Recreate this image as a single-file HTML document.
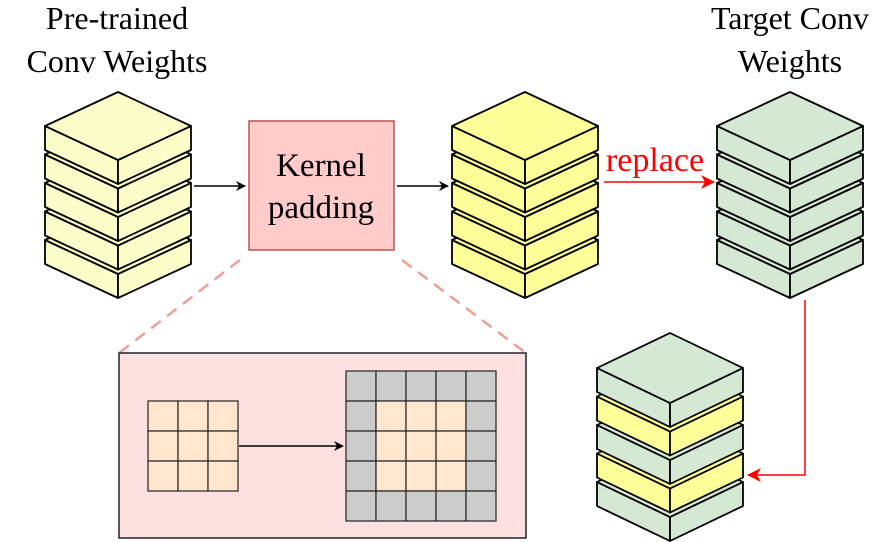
<!DOCTYPE html>
<html><head><meta charset="utf-8"><style>body{margin:0;background:#fff}svg{display:block}text{font-family:"Liberation Serif",serif;}</style></head>
<body>
<svg width="896" height="542" viewBox="0 0 896 542">
<defs>
<marker id="ab" markerWidth="10" markerHeight="10" refX="9" refY="5" orient="auto" markerUnits="userSpaceOnUse"><path d="M0,0 L10,5 L0,10 L3,5 z" fill="#000"/></marker>
<marker id="ar" markerWidth="14" markerHeight="14" refX="13" refY="7" orient="auto" markerUnits="userSpaceOnUse"><path d="M0,0 L14,7 L0,14 L4,7 z" fill="#f00"/></marker>
</defs>
<text x="117" y="29" font-size="32" text-anchor="middle">Pre-trained</text>
<text x="117" y="72" font-size="32" text-anchor="middle">Conv Weights</text>
<text x="790" y="29" font-size="32" text-anchor="middle">Target Conv</text>
<text x="790" y="72" font-size="32" text-anchor="middle">Weights</text>
<g id="stacks"></g>
<rect x="249" y="121" width="145" height="129" fill="#ffcccb" stroke="#b85450" stroke-width="1.5"/>
<text x="321" y="176" font-size="33" text-anchor="middle">Kernel</text>
<text x="321" y="218" font-size="33" text-anchor="middle">padding</text>
<line x1="194" y1="186" x2="245" y2="186" stroke="#000" stroke-width="1.5" marker-end="url(#ab)"/>
<line x1="397" y1="186" x2="448" y2="186" stroke="#000" stroke-width="1.5" marker-end="url(#ab)"/>
<line x1="604" y1="182" x2="714" y2="182" stroke="#f00" stroke-width="1.5" marker-end="url(#ar)"/>
<text x="655" y="171" font-size="34" fill="#f00" text-anchor="middle">replace</text>
<polyline points="805,300 805,475 748,475" fill="none" stroke="#f00" stroke-width="1.5" marker-end="url(#ar)"/>
<line x1="240" y1="260" x2="119" y2="353" stroke="#f19c99" stroke-width="2.5" stroke-dasharray="12,8"/>
<line x1="402" y1="260" x2="526" y2="353" stroke="#f19c99" stroke-width="2.5" stroke-dasharray="12,8"/>
<rect x="119" y="353" width="407" height="185" fill="#fde0e0" stroke="#222" stroke-width="1.5"/>
<g id="grids"></g>
<line x1="239" y1="446" x2="343" y2="446" stroke="#000" stroke-width="1.5" marker-end="url(#ab)"/>
</svg>
<script>
const NS="http://www.w3.org/2000/svg";
const stacks=[
 {cx:118,m:126,h:34,colors:["#fdfdc9","#fdfdc9","#fdfdc9","#fdfdc9","#fdfdc9"],name:"pretrained-stack"},
 {cx:525,m:126,h:34,colors:["#ffff99","#ffff99","#ffff99","#ffff99","#ffff99"],name:"padded-stack"},
 {cx:790,m:126,h:34,colors:["#d5e8d4","#d5e8d4","#d5e8d4","#d5e8d4","#d5e8d4"],name:"target-stack"},
 {cx:670,m:368,h:35,colors:["#d5e8d4","#ffff99","#d5e8d4","#ffff99","#d5e8d4"],name:"result-stack"}];
const sg=document.getElementById('stacks');
function poly(g,pts,fill){const p=document.createElementNS(NS,'polygon');p.setAttribute('points',pts.map(a=>a.join(',')).join(' '));p.setAttribute('fill',fill);p.setAttribute('stroke','#000');p.setAttribute('stroke-width','1.8');p.setAttribute('stroke-linejoin','round');g.appendChild(p);}
stacks.forEach(s=>{
 const g=document.createElementNS(NS,'g');
 
 
 for(let i=4;i>=0;i--){
  const m=s.m+28.5*i,cx=s.cx,w=73,h=s.h,t=24,c=s.colors[i];
  const sl=document.createElementNS(NS,'g');
  
  
  poly(sl,[[cx-w,m],[cx,m+h],[cx,m+h+t],[cx-w,m+t]],c);
  poly(sl,[[cx+w,m],[cx,m+h],[cx,m+h+t],[cx+w,m+t]],c);
  poly(sl,[[cx,m-h],[cx+w,m],[cx,m+h],[cx-w,m]],c);
  g.appendChild(sl);
 }
 sg.appendChild(g);
});
const gg=document.getElementById('grids');
function grid(x0,y0,n,inner,name){
 const g=document.createElementNS(NS,'g');
 
 
 for(let r=0;r<n;r++)for(let c=0;c<n;c++){
  const rc=document.createElementNS(NS,'rect');
  rc.setAttribute('x',x0+c*30);rc.setAttribute('y',y0+r*30);rc.setAttribute('width',30);rc.setAttribute('height',30);
  rc.setAttribute('fill',inner(r,c)?'#ffe6cc':'#cccccc');rc.setAttribute('stroke','#222');rc.setAttribute('stroke-width','1.2');
  g.appendChild(rc);
 }
 gg.appendChild(g);
}
grid(148,401,3,()=>true,'kernel-3x3');
grid(346,371,5,(r,c)=>r>0&&r<4&&c>0&&c<4,'kernel-5x5-padded');
</script>
</body></html>
